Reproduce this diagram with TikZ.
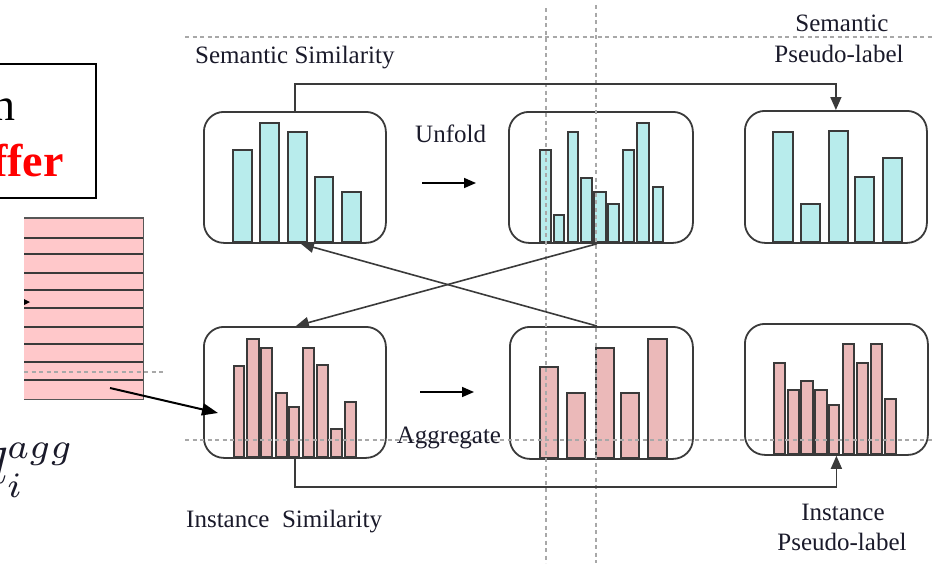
\documentclass[tikz,border=0pt]{standalone}
\usepackage{fontspec}
\setmainfont{Liberation Serif}
\usetikzlibrary{arrows.meta}
\definecolor{cyanbar}{HTML}{B8ECEC}
\definecolor{pinkbar}{HTML}{EBB9B9}
\definecolor{pinkstack}{HTML}{FFC8CA}
\definecolor{edge}{HTML}{3A3A3A}
\definecolor{dashgray}{HTML}{A8A8A8}
\definecolor{txt}{HTML}{1A1A2A}
\begin{document}
\begin{tikzpicture}[x=1pt,y=-1pt,
  panel/.style={draw=edge, line width=1.8pt, rounded corners=20pt, inner sep=0pt, anchor=north west},
  cbar/.style={draw=edge, fill=cyanbar, line width=1.4pt},
  pbar/.style={draw=edge, fill=pinkbar, line width=1.4pt},
  guide/.style={draw=dashgray, line width=1.1pt, dash pattern=on 4pt off 3.5pt},
  conn/.style={draw=edge, line width=1.6pt},
  tip/.style={-{Triangle[length=13pt,width=11pt]}},
  lbl/.style={inner sep=0pt, text=txt, font=\fontsize{25}{30}\selectfont},
]
\useasboundingbox (0,0) rectangle (935,563);
\clip (0,0) rectangle (935,563);

% left partial box with text
\node[draw=black, line width=2.2pt, minimum width=105pt, minimum height=134pt, inner sep=0pt, anchor=north west] (bufbox) at (-10,63) {};
\node[inner sep=0pt, anchor=base east, font=\fontsize{46}{52}\selectfont] (tn) at (16,120) {n};
\node[inner sep=0pt, anchor=base east, text=red, font=\fontsize{46}{52}\selectfont\bfseries] (tffer) at (64,176) {ffer};

% pink stack
\node[fill=pinkstack, minimum width=119pt, minimum height=181pt, inner sep=0pt, anchor=north west] (stack) at (24,218) {};
\foreach \yy in {238,254,273,290,308,327,344,362,380}
  \draw[line width=1.9pt, edge] (24,\yy) -- (143,\yy);
\draw[line width=1.6pt, edge!85] (stack.north west) -- (stack.north east) -- (stack.south east) -- (stack.south west);
\fill[black] (24,299) -- (30,302) -- (24,305) -- cycle;

% math label
\node[inner sep=0pt, anchor=base west, text=txt, scale=5.1] (dagg) at (-20.5,483) {$d_i^{agg}$};

% panels
\node[panel, minimum width=182pt, minimum height=131pt] (TL) at (203,111) {};
\node[panel, minimum width=184pt, minimum height=131pt] (TM) at (508,111) {};
\node[panel, minimum width=182pt, minimum height=132pt] (TR) at (744,110) {};
\node[panel, minimum width=182pt, minimum height=131pt] (BL) at (203,326) {};
\node[panel, minimum width=183pt, minimum height=132pt] (BM) at (509,326) {};
\node[panel, minimum width=183pt, minimum height=131pt] (BR) at (744,323) {};

% bars
\foreach \a/\b/\t in {233/252/150, 260/279/123, 288/307/132, 315/333/177, 342/361/192}
  \draw[cbar] (\a,242) rectangle (\b,\t);
\foreach \a/\b/\t in {540/551/150, 554/564/215, 568/578/132, 581/592/178, 594/606/192, 608/619/204, 623/634/150, 637/649/123, 653/663/187}
  \draw[cbar] (\a,242) rectangle (\b,\t);
\foreach \a/\b/\t in {773/793/132, 801/820/204, 829/848/131, 855/874/177, 883/902/158}
  \draw[cbar] (\a,242) rectangle (\b,\t);
\foreach \a/\b/\t in {234/244/366, 247/259/339, 261/272/348, 276/287/393, 289/299/407, 303/314/348, 317/328/365, 331/342/429, 345/356/402}
  \draw[pbar] (\a,457) rectangle (\b,\t);
\foreach \a/\b/\t in {540/558/367, 567/585/393, 596/614/348, 621/639/393, 648/667/339}
  \draw[pbar] (\a,458) rectangle (\b,\t);
\foreach \a/\b/\t in {774/785/363, 788/799/390, 801/813/381, 815/827/390, 829/839/405, 843/854/344, 857/868/363, 871/882/344, 885/896/399}
  \draw[pbar] (\a,454) rectangle (\b,\t);

% guide lines
\coordinate (g1a) at (185,37);  \coordinate (g1b) at (935,37);
\coordinate (g2a) at (185,440); \coordinate (g2b) at (935,440);
\coordinate (g3a) at (24,372);  \coordinate (g3b) at (166,372);
\coordinate (v1a) at (546,8);   \coordinate (v1b) at (546,563);
\coordinate (v2a) at (596,5);   \coordinate (v2b) at (596,563);
\draw[guide] (g1a) -- (g1b);
\draw[guide] (g2a) -- (g2b);
\draw[guide] (g3a) -- (g3b);
\draw[guide] (v1a) -- (v1b);
\draw[guide] (v2a) -- (v2b);

% connectors
\draw[conn, tip] (TL.north) -- ++(0,-27) -| (TR.north);
\draw[conn, tip] (BL.south) -- ++(0,28) -| (BR.south);
\draw[conn, tip] ([xshift=-4pt]TM.south) -- ([xshift=1pt]BL.north);
\draw[conn, tip] ([xshift=-4.5pt]BM.north) -- ([xshift=6pt]TL.south);

\coordinate (unfA) at (422,183); \coordinate (unfB) at (476,183);
\coordinate (aggA) at (420,392); \coordinate (aggB) at (474,392);
\draw[line width=1.6pt, black, -{Triangle[length=12pt,width=10pt]}] (unfA) -- (unfB);
\draw[line width=1.6pt, black, -{Triangle[length=12pt,width=10pt]}] (aggA) -- (aggB);

\coordinate (stk) at (110,388); \coordinate (bltip) at (218,413);
\draw[line width=2pt, black, -{Triangle[length=16pt,width=12pt]}] (stk) -- (bltip);

% labels
\node[lbl, anchor=base west] (lss) at (195,63) {Semantic Similarity};
\node[lbl, anchor=base west] (lunf) at (415,142) {Unfold};
\node[lbl, anchor=base] (lsem) at (842,31) {Semantic};
\node[lbl, anchor=base] (lspl) at (839,62) {Pseudo-label};
\node[lbl, anchor=base] (lagg) at (449,443) {Aggregate};
\node[lbl, anchor=base west] (lis) at (186,527) {Instance\ \ Similarity};
\node[lbl, anchor=base] (lins) at (843,520) {Instance};
\node[lbl, anchor=base] (lipl) at (842,550) {Pseudo-label};
\end{tikzpicture}
\end{document}
